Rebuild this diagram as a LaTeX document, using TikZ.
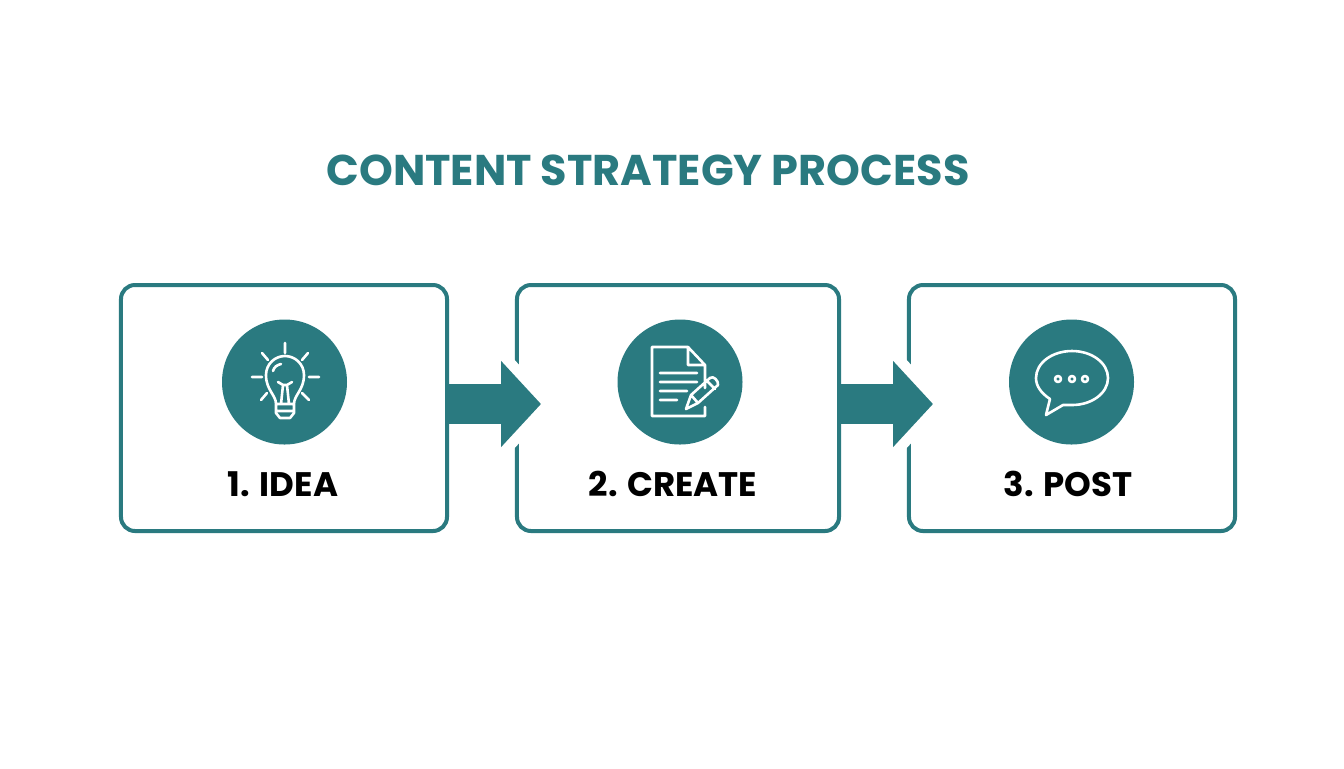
\documentclass[tikz,border=0pt]{standalone}
\usepackage{fontspec}
\setmainfont{Poppins}[BoldFont=* Bold]
\usetikzlibrary{matrix,arrows.meta}
\definecolor{tealmain}{HTML}{2A7A80}
\tikzset{
	stepbox/.style={draw=tealmain,line width=2pt,rounded corners=7pt,minimum height=123pt,inner sep=0pt},
	stepdisc/.style={circle,fill=tealmain,minimum size=62.5pt,inner sep=0pt},
	steplabel/.style={font=\fontsize{17}{20}\selectfont\bfseries,text=black,inner sep=0pt},
	flowhalo/.style={draw=white,line width=20pt,-{Triangle[length=27.5pt,width=57pt,fill=white]},shorten >=-20.5pt},
	flowarrow/.style={draw=tealmain,line width=20pt,-{Triangle[length=20pt,width=42pt,fill=tealmain]},shorten >=-13pt},
	iconline/.style={draw=white,line width=1.3pt,line cap=round,line join=round}
}
\begin{document}
\begin{tikzpicture}[x=.5pt,y=-.5pt]
	\useasboundingbox[fill=white] (0,0) rectangle (1344,768);
	\matrix(m)[column sep=33pt] at (678,408)
	{ \node[stepbox,minimum width=163pt](idea){}; &
	  \node[stepbox,minimum width=161pt](create){}; &
	  \node[stepbox,minimum width=163pt](post){}; \\};
	\draw[flowhalo] ([yshift=2pt]idea.east) -- ([yshift=2pt]create.west);
	\draw[flowhalo] ([yshift=2pt]create.east) -- ([yshift=2pt]post.west);
	\draw[flowarrow] ([yshift=2pt]idea.east) -- ([yshift=2pt]create.west);
	\draw[flowarrow] ([yshift=2pt]create.east) -- ([yshift=2pt]post.west);
	\node[font=\fontsize{21.5}{26}\selectfont\bfseries,text=tealmain,inner sep=0pt](title) at (648,170) {CONTENT STRATEGY PROCESS};
	\node[stepdisc](ideadisc) at (284.5,382) {};
	\node[stepdisc](createdisc) at (680,382) {};
	\node[stepdisc](postdisc) at (1071.5,382) {};
	\node[steplabel](idealabel) at (283,484) {1. IDEA};
	\node[steplabel](createlabel) at (673,484) {2. CREATE};
	\node[steplabel](postlabel) at (1068,484) {3. POST};
	\draw[iconline]
	(285,343) -- (285,353) (262,353) -- (268,360) (308,353) -- (302,360)
	(252,377) -- (262,377) (309,377) -- (319,377)
	(261,400) -- (267,393) (309,400) -- (302,393)
	(276,404) .. controls (276,395) and (266,390) .. (266,375)
	.. controls (266,364) and (275,356) .. (285,356)
	.. controls (295,356) and (304,364) .. (304,375)
	.. controls (304,390) and (294,395) .. (294,404) -- cycle
	(276,404) -- (276,413) -- (280,418) -- (290,418) -- (294,413) -- (294,404)
	(276,411) -- (294,411)
	(278,382) -- (283,385) -- (287,385) -- (292,382)
	(283,385) -- (281,404) (287,385) -- (289,404)
	(273,371) .. controls (274,367) and (277,365) .. (281,364);
	\draw[iconline]
	(705,388) -- (705,365) -- (688,347) -- (652,347) -- (652,416) -- (705,416) -- (705,407)
	(688,347) -- (688,365) -- (705,365)
	(660,373) -- (697,373) (660,382) -- (697,382) (660,391) -- (687,391) (660,400) -- (677,400)
	(686,409) -- (691,395) -- (710,378) .. controls (713,375) and (719,381) .. (718,385) -- (698,403) -- cycle
	(691,395) -- (698,403) (707,381) -- (715,389);
	\draw[iconline]
	(1050,399) .. controls (1041,393) and (1036,386) .. (1036,378)
	.. controls (1036,363) and (1052,351) .. (1072,351)
	.. controls (1092,351) and (1108,363) .. (1108,378)
	.. controls (1108,393) and (1092,405) .. (1072,405)
	.. controls (1069,405) and (1066,405) .. (1063,405) -- (1046,415) -- cycle;
	\foreach \dotx in {1058,1072,1085}
		\draw[iconline] (\dotx,379) circle (3);
\end{tikzpicture}
\end{document}
